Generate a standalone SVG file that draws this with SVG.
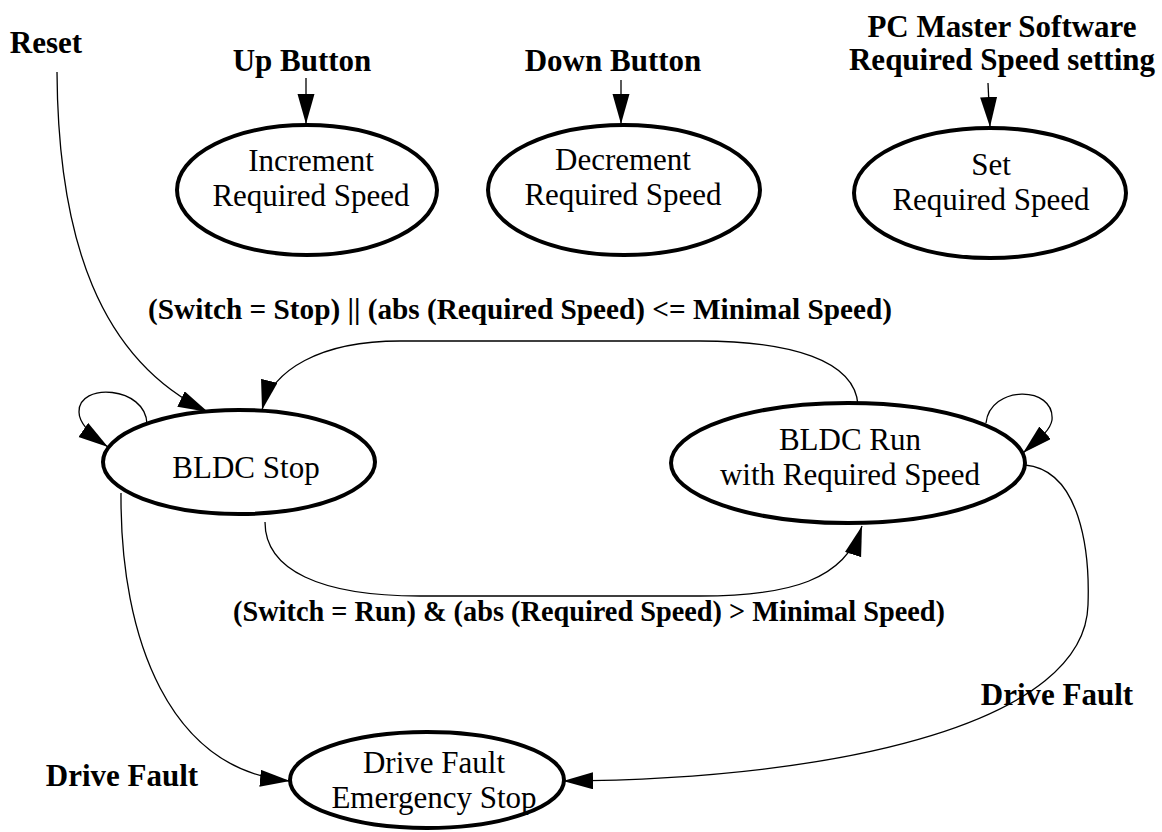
<svg xmlns="http://www.w3.org/2000/svg" width="1162" height="832" viewBox="0 0 1162 832">
  <style>
    .state { fill: #ffffff; stroke: #000000; stroke-width: 4; }
    .name { font-family: "Liberation Serif", "Times New Roman", serif; font-size: 31px; fill: #000000; text-anchor: middle; }
    .event { font-family: "Liberation Serif", "Times New Roman", serif; font-size: 31px; font-weight: bold; fill: #000000; text-anchor: middle; }
    .cond { font-family: "Liberation Serif", "Times New Roman", serif; font-size: 28.5px; font-weight: bold; fill: #000000; text-anchor: middle; }
    .edge { fill: none; stroke: #000000; stroke-width: 1.3; marker-end: url(#head); }
  </style>
  <defs>
    <marker id="head" markerUnits="userSpaceOnUse" markerWidth="30" markerHeight="18" refX="30" refY="8.5" orient="auto">
      <path d="M0,0 L30,8.5 L0,17 z" fill="#000000"/>
    </marker>
  </defs>
  <rect width="1162" height="832" fill="#ffffff"/>

  <!-- transitions -->
  <g id="connectors">
    <path class="edge" d="M306,78 L306,124"/>
    <path class="edge" d="M621,80 L621,124"/>
    <path class="edge" d="M988,83 L990,127"/>
    <path class="edge" d="M57,72 C58,240 100,360 208,412"/>
    <path class="edge" d="M147,424 C146,386 78,382 79,412 C79,425 95,438 108,447"/>
    <path class="edge" d="M986,423 C990,385 1055,385 1052,420 C1050,432 1035,442 1023,453"/>
    <path class="edge" d="M858,405 C855,360 790,341 700,341 L400,341 C320,341 272,370 262,410"/>
    <path class="edge" d="M265,522 C265,570 320,596 420,596 L700,596 C790,596 845,580 862,526"/>
    <path class="edge" d="M121,493 C120,640 170,770 290,781"/>
    <path class="edge" d="M1025,465 C1080,470 1090,550 1088,605 C1085,720 850,779 563,781"/>
  </g>

  <!-- input events -->
  <g id="events">
    <text class="event" x="46" y="53">Reset</text>
    <text class="event" x="302" y="71">Up Button</text>
    <text class="event" x="613" y="71">Down Button</text>
    <text class="event" x="1002" y="37">PC Master Software</text>
    <text class="event" x="1002" y="70">Required Speed setting</text>
    <text class="event" x="122" y="786">Drive Fault</text>
    <text class="event" x="1057" y="705">Drive Fault</text>
  </g>

  <!-- transition conditions -->
  <g id="conditions">
    <text class="cond" x="520" y="319" textLength="744" lengthAdjust="spacingAndGlyphs">(Switch = Stop) || (abs (Required Speed) &lt;= Minimal Speed)</text>
    <text class="cond" x="589" y="621" textLength="712" lengthAdjust="spacingAndGlyphs">(Switch = Run) &amp; (abs (Required Speed) &gt; Minimal Speed)</text>
  </g>

  <g id="increment">
    <ellipse class="state" cx="307" cy="190" rx="130" ry="65"/>
    <text class="name" x="311" y="171">Increment</text>
    <text class="name" x="311" y="206">Required Speed</text>
  </g>

  <g id="decrement">
    <ellipse class="state" cx="624" cy="190" rx="136" ry="65"/>
    <text class="name" x="623" y="170">Decrement</text>
    <text class="name" x="623" y="205">Required Speed</text>
  </g>

  <g id="set">
    <ellipse class="state" cx="990" cy="193" rx="136" ry="65"/>
    <text class="name" x="991" y="175">Set</text>
    <text class="name" x="991" y="210">Required Speed</text>
  </g>

  <g id="bldc-stop">
    <ellipse class="state" cx="239" cy="462" rx="136" ry="52"/>
    <text class="name" x="246" y="478">BLDC Stop</text>
  </g>

  <g id="bldc-run">
    <ellipse class="state" cx="848" cy="463" rx="177" ry="60"/>
    <text class="name" x="850" y="450">BLDC Run</text>
    <text class="name" x="850" y="485">with Required Speed</text>
  </g>

  <g id="emergency-stop">
    <ellipse class="state" cx="427" cy="780" rx="137" ry="48"/>
    <text class="name" x="434" y="773">Drive Fault</text>
    <text class="name" x="434" y="808">Emergency Stop</text>
  </g>
</svg>
